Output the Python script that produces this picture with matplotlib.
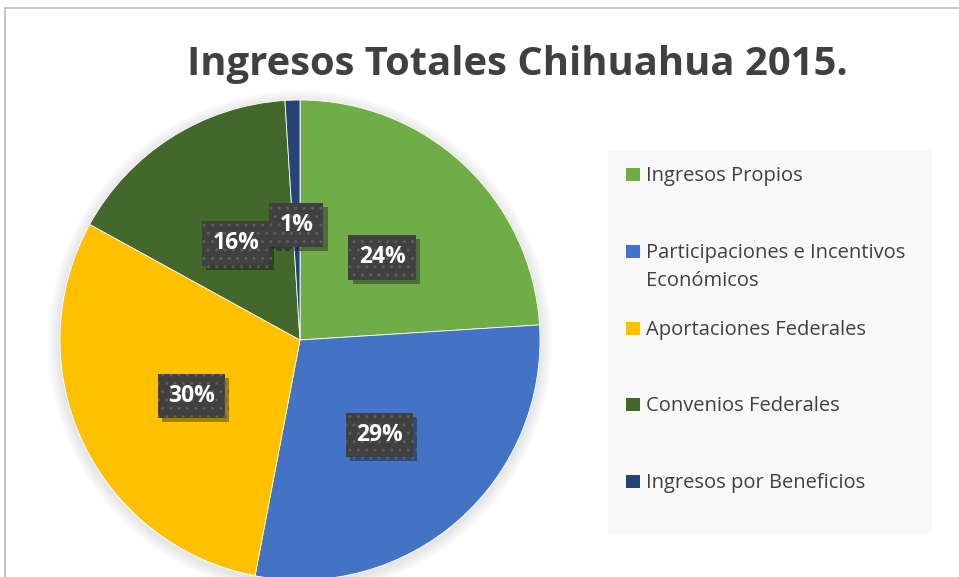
import matplotlib.pyplot as plt
import matplotlib.patheffects as pe
from matplotlib.patches import Rectangle, Circle

# data
title = "Ingresos Totales Chihuahua 2015."
labels = ["Ingresos Propios",
          "Participaciones e Incentivos\nEconómicos",
          "Aportaciones Federales",
          "Convenios Federales",
          "Ingresos por Beneficios"]
shares = [24, 29, 30, 16, 1]
colors = ["#70AD47", "#4472C4", "#FFC000", "#43682B", "#264478"]

W, H = 959, 577
plt.rcParams['font.family'] = ['Open Sans', 'DejaVu Sans']
fig = plt.figure(figsize=(W / 100, H / 100), dpi=100)


def fx(px):
    return px / W


def fy(py):
    return 1 - py / H


# outer chart border (only top and left are visible)
fig.add_artist(Rectangle((fx(5), fy(620)), 1.2, fy(8) - fy(620), transform=fig.transFigure,
                         fill=False, ec='#c0c0c0', lw=1.3))

# pie: centre (300, 340) px, radius 240 px
ax = fig.add_axes([fx(60), fy(580), 480 / W, 480 / H])
for k in range(5):
    ax.add_patch(Circle((0.0, -0.01), 1.0 + 0.01 * (k + 1), fc='#000000', alpha=0.018,
                        lw=0, zorder=0, clip_on=False))

wedges, texts, autotexts = ax.pie(
    shares, colors=colors, startangle=90, counterclock=False,
    autopct='%.0f%%', pctdistance=0.5,
    wedgeprops=dict(edgecolor='white', linewidth=0.6))
ax.set_xlim(-1, 1)
ax.set_ylim(-1, 1)
ax.axis('off')

for t in autotexts:
    x, y = t.get_position()
    t.set_position((x, y - 0.02))
    t.set_color('white')
    t.set_fontweight('bold')
    t.set_fontsize(16.5)
    t.set_bbox(dict(boxstyle='square,pad=0.45', fc='#404040', ec='#5c5c5c', lw=0, hatch='..'))
    t.get_bbox_patch().set_path_effects([
        pe.SimplePatchShadow(offset=(3, -3), shadow_rgbFace='#000000', alpha=0.35),
        pe.Normal()])

fig.text(fx(517), fy(64), title, ha='center', va='center', fontsize=28.8,
         fontweight='bold', color='#404040')

# legend panel
fig.add_artist(Rectangle((fx(608), fy(533)), (932 - 608) / W, (533 - 150) / H,
                         transform=fig.transFigure, fc='#f8f8f8', ec='none'))
for i, (lab, col) in enumerate(zip(labels, colors)):
    base = 181 + 76.8 * i
    fig.add_artist(Rectangle((fx(626), fy(base)), 14 / W, 13 / H,
                             transform=fig.transFigure, fc=col, ec='none'))
    for j, line in enumerate(lab.split("\n")):
        fig.text(fx(646), fy(base + 28 * j), line, ha='left', va='baseline',
                 fontsize=14.5, color='#404040')

fig.savefig("out.png", dpi=100)
